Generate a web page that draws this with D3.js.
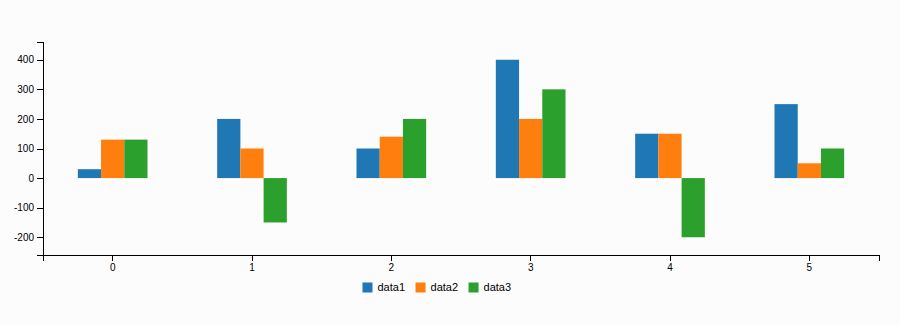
<!DOCTYPE html>
<html>
<head>
<meta charset="utf-8">
<script src="https://cdn.jsdelivr.net/npm/d3@7"></script>
<style>
  html, body { margin: 0; padding: 0; background: #fcfcfc; }
  svg { display: block; font-family: "Liberation Sans", Arial, sans-serif; }
  .axis text { font-size: 10px; fill: #000; }
  .axis path, .axis line { stroke: #000; shape-rendering: crispEdges; }
</style>
</head>
<body>
<svg id="chart" width="900" height="326"></svg>
<script>
// Categories and series
const categories = [0, 1, 2, 3, 4, 5];
const seriesNames = ["data1", "data2", "data3"];
const data1 = [30, 200, 100, 400, 150, 250];
const data2 = [130, 100, 140, 200, 150, 50];
const data3 = [130, -150, 200, 300, -200, 100];
const yTicks = [-200, -100, 0, 100, 200, 300, 400];
const colors = ["#1f77b4", "#ff7f0e", "#2ca02c"];

const series = [data1, data2, data3];

const svg = d3.select("#chart");
const margin = { left: 43, right: 21, top: 42, bottom: 71 };
const W = 900, H = 326;

const x = d3.scaleBand()
  .domain(categories)
  .range([margin.left, W - margin.right])
  .paddingInner(0).paddingOuter(0);

const y = d3.scaleLinear()
  .domain([-260, 460])
  .range([H - margin.bottom, margin.top]);

const groupRatio = 0.5;
const xs = d3.scaleBand()
  .domain(seriesNames)
  .range([0, x.bandwidth() * groupRatio]);

// Bars
const g = svg.append("g");
categories.forEach((c, i) => {
  const x0 = x(c) + (x.bandwidth() * (1 - groupRatio)) / 2;
  series.forEach((s, k) => {
    const v = s[i];
    g.append("rect")
      .attr("x", x0 + xs(seriesNames[k]))
      .attr("width", xs.bandwidth())
      .attr("y", y(Math.max(0, v)))
      .attr("height", Math.abs(y(v) - y(0)))
      .attr("fill", colors[k]);
  });
});

// Axes (plain hyphen for negative numbers)
const fmt = d3.formatLocale({ decimal: ".", thousands: ",", grouping: [3], currency: ["", ""], minus: "-" }).format("d");

svg.append("g")
  .attr("class", "axis")
  .attr("transform", `translate(0,${H - margin.bottom})`)
  .call(d3.axisBottom(x).tickSize(6).tickSizeOuter(6).tickPadding(3));

svg.append("g")
  .attr("class", "axis")
  .attr("transform", `translate(${margin.left},0)`)
  .call(d3.axisLeft(y).tickValues(yTicks).tickFormat(fmt).tickSize(6).tickSizeOuter(6).tickPadding(3));

// Legend
const legend = svg.append("g").attr("class", "legend");
const items = legend.selectAll("g").data(seriesNames).join("g");
items.append("rect").attr("width", 10).attr("height", 10)
  .attr("y", -5)
  .attr("fill", (d, i) => colors[i]);
items.append("text")
  .attr("x", 15)
  .attr("dy", "0.35em")
  .style("font-size", "11px")
  .attr("fill", "#000")
  .text(d => d);

let offs = 0;
const offsets = [];
items.each(function () {
  const tw = this.querySelector("text").getComputedTextLength();
  offsets.push(offs);
  offs += 15 + tw + 10.5;
});
const startX = 362.5;
items.attr("transform", (d, i) => `translate(${startX + offsets[i]},287.5)`);
</script>
</body>
</html>
